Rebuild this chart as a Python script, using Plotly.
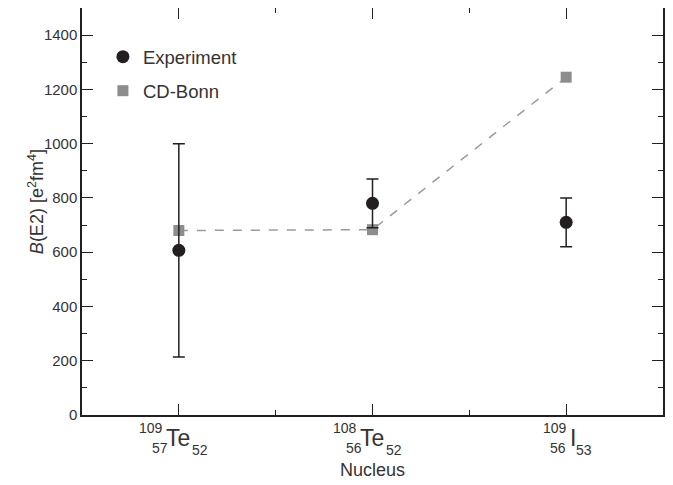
import plotly.graph_objects as go

# ---- data ----
positions = [0, 1, 2]
mass_numbers = ["109", "108", "109"]
proton_numbers = ["57", "56", "56"]
neutron_numbers = ["52", "52", "53"]
symbols = ["Te", "Te", "I"]

exp_values = [607, 780, 710]
exp_errors = [393, 90, 90]
cdbonn_values = [680, 683, 1245]

y_tickvals = [0, 200, 400, 600, 800, 1000, 1200, 1400]

FONT = "Liberation Sans"
TXT = "#333333"
AX = "#231f20"

fig = go.Figure()

fig.add_trace(go.Scatter(
    x=positions, y=cdbonn_values, name="CD-Bonn line", mode="lines",
    line=dict(color="#9a9a9a", width=1.5, dash="dash"), showlegend=False,
))
fig.add_trace(go.Scatter(
    x=positions, y=cdbonn_values, name="CD-Bonn", mode="markers",
    marker=dict(symbol="square", size=11, color="#8d8d8d"),
    legendgroup="b", legendrank=2,
))
fig.add_trace(go.Scatter(
    x=positions, y=exp_values, name="Experiment", mode="markers",
    marker=dict(symbol="circle", size=13, color=AX),
    error_y=dict(type="data", array=exp_errors, visible=True, color=AX,
                 thickness=1.5, width=6),
    legendgroup="a", legendrank=1,
))

# nucleus labels built from the lists
for xv, a, z, n, s in zip(positions, mass_numbers, proton_numbers, neutron_numbers, symbols):
    piv = -15 if s == "Te" else 2
    fig.add_annotation(x=xv, y=0, xref="x", yref="paper", text=s, showarrow=False,
                       xanchor="left", yanchor="middle", xshift=piv, yshift=-23,
                       font=dict(family=FONT, size=23, color=TXT))
    fig.add_annotation(x=xv, y=0, xref="x", yref="paper", text=a, showarrow=False,
                       xanchor="right", yanchor="middle", xshift=piv + 1, yshift=-13,
                       font=dict(family=FONT, size=14, color=TXT))
    fig.add_annotation(x=xv, y=0, xref="x", yref="paper", text=z, showarrow=False,
                       xanchor="right", yanchor="middle", xshift=piv + (6 if s == "Te" else 0), yshift=-33,
                       font=dict(family=FONT, size=14, color=TXT))
    fig.add_annotation(x=xv, y=0, xref="x", yref="paper", text=n, showarrow=False,
                       xanchor="left", yanchor="middle",
                       xshift=piv + (26 if s == "Te" else 6), yshift=-35,
                       font=dict(family=FONT, size=14, color=TXT))

# y-axis title (placed slightly above the plot centre, as in the reference)
fig.add_annotation(x=0, y=0.523, xref="paper", yref="paper",
                   text="<i>B</i>(E2) [e<sup>2</sup>fm<sup>4</sup>]", textangle=-90,
                   showarrow=False, xanchor="center", yanchor="middle", xshift=-46,
                   font=dict(family=FONT, size=18, color=TXT))

axis_common = dict(
    showline=True, linecolor=AX, linewidth=1.5, mirror="ticks",
    ticks="inside", ticklen=11, tickwidth=1, tickcolor=AX,
    showgrid=False, zeroline=False, automargin=False,
)

fig.update_xaxes(
    range=[-0.5, 2.5], tickmode="array", tickvals=positions, showticklabels=False,
    minor=dict(tickmode="array", tickvals=[0.5, 1.5], ticks="inside", ticklen=5,
               tickcolor=AX, tickwidth=1),
    title=dict(text="Nucleus", font=dict(family=FONT, size=18, color=TXT), standoff=48),
    **axis_common,
)
fig.update_yaxes(
    range=[0, 1500], tickmode="array", tickvals=y_tickvals,
    tickfont=dict(family=FONT, size=15, color=TXT),
    minor=dict(tickmode="linear", tick0=0, dtick=100, ticks="inside", ticklen=5,
               tickcolor=AX, tickwidth=1),
    **axis_common,
)

fig.update_layout(
    width=673, height=485,
    margin=dict(l=74, r=18, t=0, b=78),
    plot_bgcolor="white", paper_bgcolor="white",
    showlegend=True,
    legend=dict(x=0.036, y=0.926, xanchor="left", yanchor="top", itemwidth=30,
                bgcolor="rgba(0,0,0,0)", traceorder="grouped", tracegroupgap=7,
                font=dict(family=FONT, size=18.5, color=TXT)),
)

fig.write_html("out.html")
